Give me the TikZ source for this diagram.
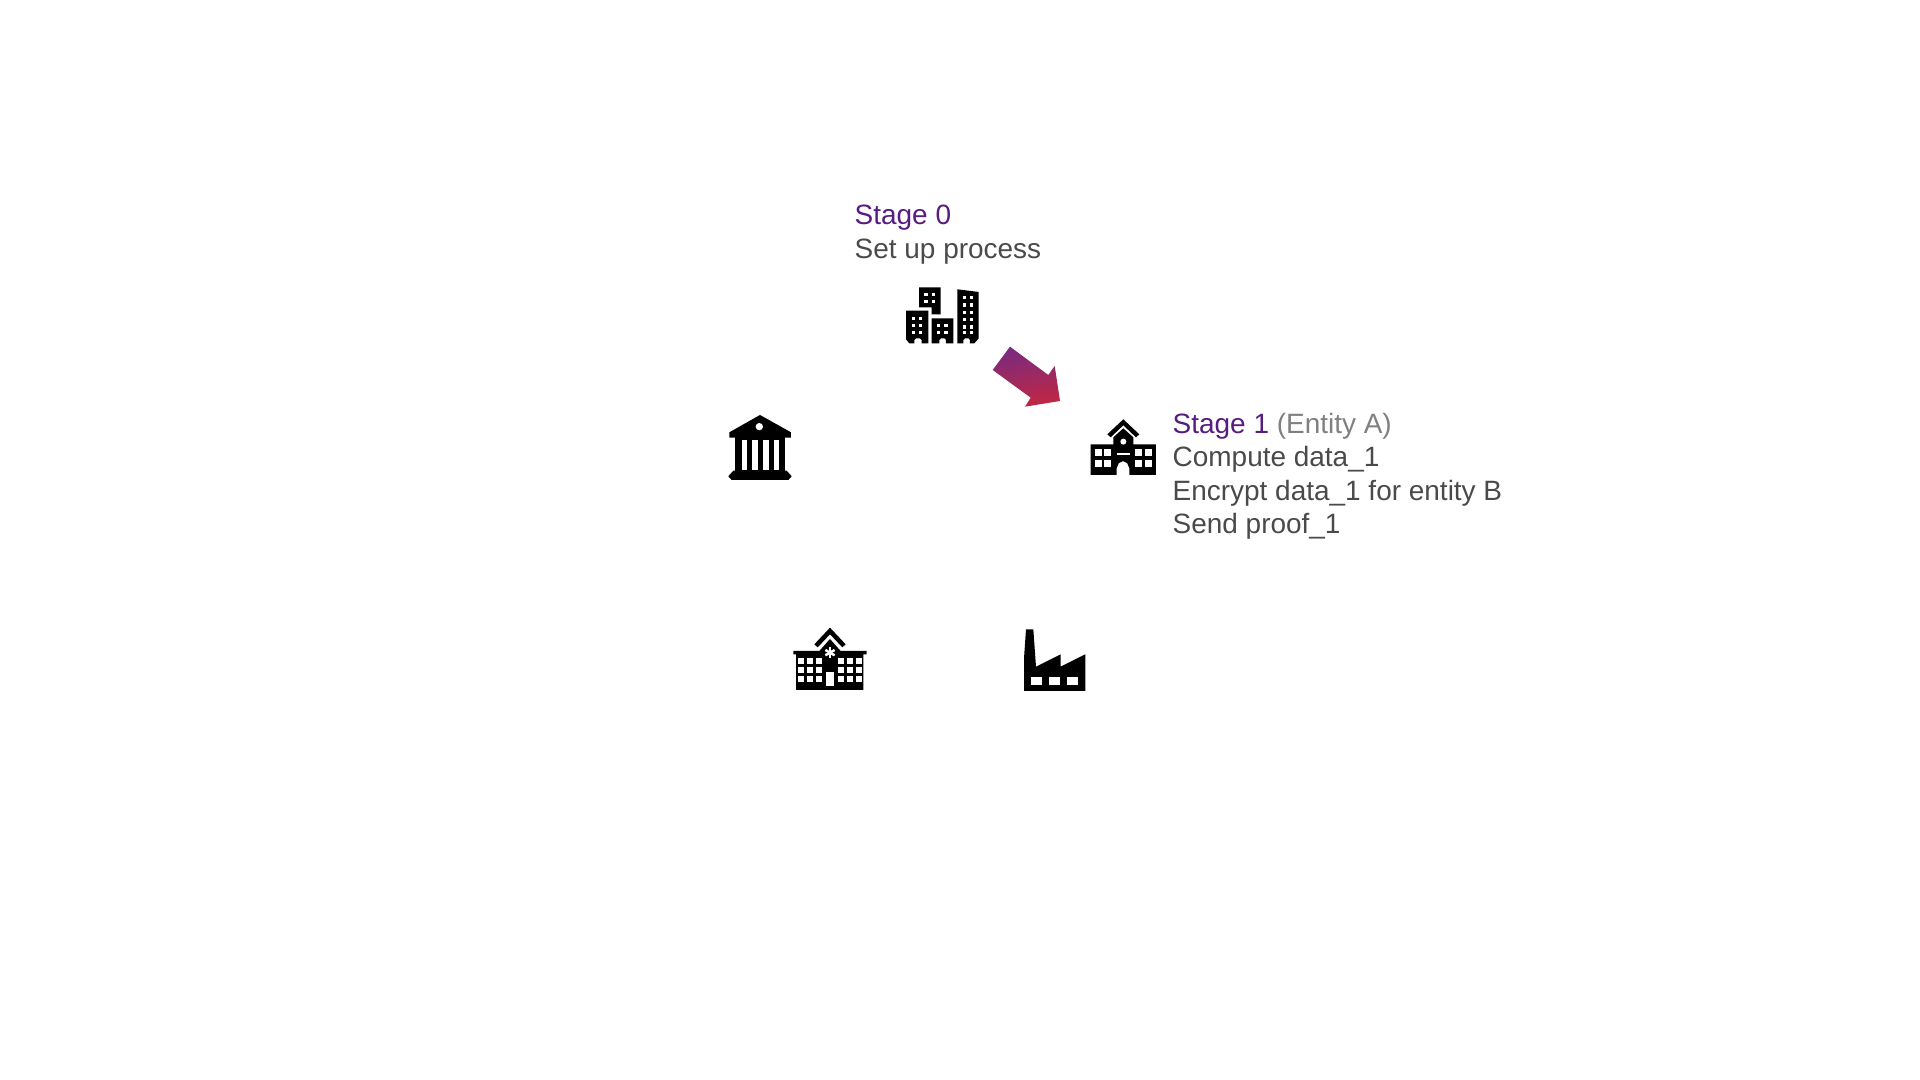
\documentclass[tikz,border=0pt]{standalone}
\usepackage{fontspec}
\setmainfont{Liberation Sans}
\usetikzlibrary{positioning}
\definecolor{StagePurple}{rgb}{0.34, 0.11, 0.50}
\definecolor{BodyGrey}{rgb}{0.29, 0.29, 0.29}
\definecolor{EntityGrey}{rgb}{0.50, 0.50, 0.50}
\definecolor{ArrowPurple}{rgb}{0.47, 0.17, 0.50}
\definecolor{ArrowRed}{rgb}{0.76, 0.15, 0.26}

\begin{document}
\begin{tikzpicture}[
    x=0.01cm, y=-0.01cm,
    stagetext/.style={anchor=north west, inner sep=0pt, align=left, text=BodyGrey,
        font=\fontsize{7.95}{9.5}\selectfont},
    icon/.style={scale=0.3333},
    hole/.style={fill=white},
]
\useasboundingbox (0,0) rectangle (1920,1080);

% textos
\node[stagetext] (stagezero) at (854,204.5)
    {\textcolor{StagePurple}{Stage 0}\\Set up process};
\node[stagetext] (stageone) at (1172,412.5)
    {\textcolor{StagePurple}{Stage 1} \textcolor{EntityGrey}{(Entity A)}\\Compute data\_1\\Encrypt data\_1 for entity B\\Send proof\_1};

% flecha
\shade[top color=ArrowPurple, bottom color=ArrowRed, shading angle=8]
    (1010,346.7) -- (992.7,370) -- (1030.7,397.7) -- (1025,406.7) -- (1060,401) -- (1054.7,366) -- (1048.3,375) -- cycle;

% ciudad
\begin{scope}[shift={(880,270)}, icon]
    \fill (117,52) -- (182,52) -- (182,133) -- (155,133) -- (155,112) -- (117,112) -- cycle;
    \fill (78,122) -- (145,122) -- (145,220) -- (125,220) -- (125,210) -- (120,205) -- (108,205) -- (103,210) -- (103,220) -- (88,220) -- (78,208) -- cycle;
    \fill (155,145) -- (220,145) -- (220,220) -- (198,220) -- (198,210) -- (193,205) -- (183,205) -- (178,210) -- (178,220) -- (155,220) -- cycle;
    \fill (232,58) -- (296,66) -- (296,205) -- (283,220) -- (270,220) -- (270,210) -- (265,205) -- (255,205) -- (250,210) -- (250,220) -- (232,220) -- cycle;
    \foreach \wx/\wy in {133/68,155/68,133/90,155/90,
        95/140,117/140,95/162,117/162,95/183,117/183,
        171/162,193/162,171/183,193/183,
        248/78,270/78,248/100,270/100,248/122,270/122,248/144,270/144,248/166,270/166,248/183,270/183}
        \fill[hole] (\wx,\wy) rectangle ++(10,10);
\end{scope}

% escuela
\begin{scope}[shift={(1070,400)}, icon]
    \fill (112,103) -- (160,58) -- (208,103) -- (198,112) -- (160,76) -- (122,112) -- cycle;
    \fill (62,133) -- (130,133) -- (130,112) -- (160,85) -- (190,112) -- (190,133) -- (258,133) -- (258,225) -- (178,225) -- (178,205) -- (172,190) -- (159,183) -- (146,190) -- (140,205) -- (140,225) -- (62,225) -- cycle;
    \foreach \wx/\wy in {76/148,102/148,76/180,102/180,195/148,225/148,195/180,225/180}
        \fill[hole] (\wx,\wy) rectangle ++(21,21);
    \fill[hole] (160,125) circle (9);
    \fill[hole] (142,158) rectangle (180,165);
\end{scope}

% banco
\begin{scope}[shift={(710,400)}, icon]
    \fill (150,45) -- (243,97) -- (243,113) -- (225,113) -- (225,212) -- (230,212) -- (245,229) -- (235,240) -- (65,240) -- (55,229) -- (70,212) -- (75,212) -- (75,113) -- (58,113) -- (58,97) -- cycle;
    \fill[hole] (148,80) circle (11);
    \foreach \wx in {95,127,160,192}
        \fill[hole] (\wx,120) rectangle ++(16,90);
\end{scope}

% hospital
\begin{scope}[shift={(780,615)}, icon]
    \fill (103,88) -- (150,38) -- (197,88) -- (187,97) -- (150,58) -- (113,97) -- cycle;
    \fill (40,108) -- (118,108) -- (150,72) -- (182,108) -- (260,108) -- (260,118) -- (250,118) -- (250,225) -- (48,225) -- (48,118) -- (40,118) -- cycle;
    \foreach \wx in {55,82,109,174,201,228}
        \foreach \wy in {129,156,183}
            \fill[hole] (\wx,\wy) rectangle ++(18,18);
    \fill[hole] (139,172) rectangle (161,212);
    \foreach \a in {90,30,-30}
        \draw[white, line width=0.7pt] (150,113) ++(\a:16) -- ++(\a+180:32);
\end{scope}

% fabrica
\begin{scope}[shift={(1010,615)}, icon]
    \fill (48,43) -- (70,43) -- (78,155) -- (152,118) -- (152,155) -- (226,118) -- (226,228) -- (42,228) -- (42,130) -- cycle;
    \foreach \wx in {62,117,171}
        \fill[hole] (\wx,185) rectangle ++(33,25);
\end{scope}

\end{tikzpicture}
\end{document}
